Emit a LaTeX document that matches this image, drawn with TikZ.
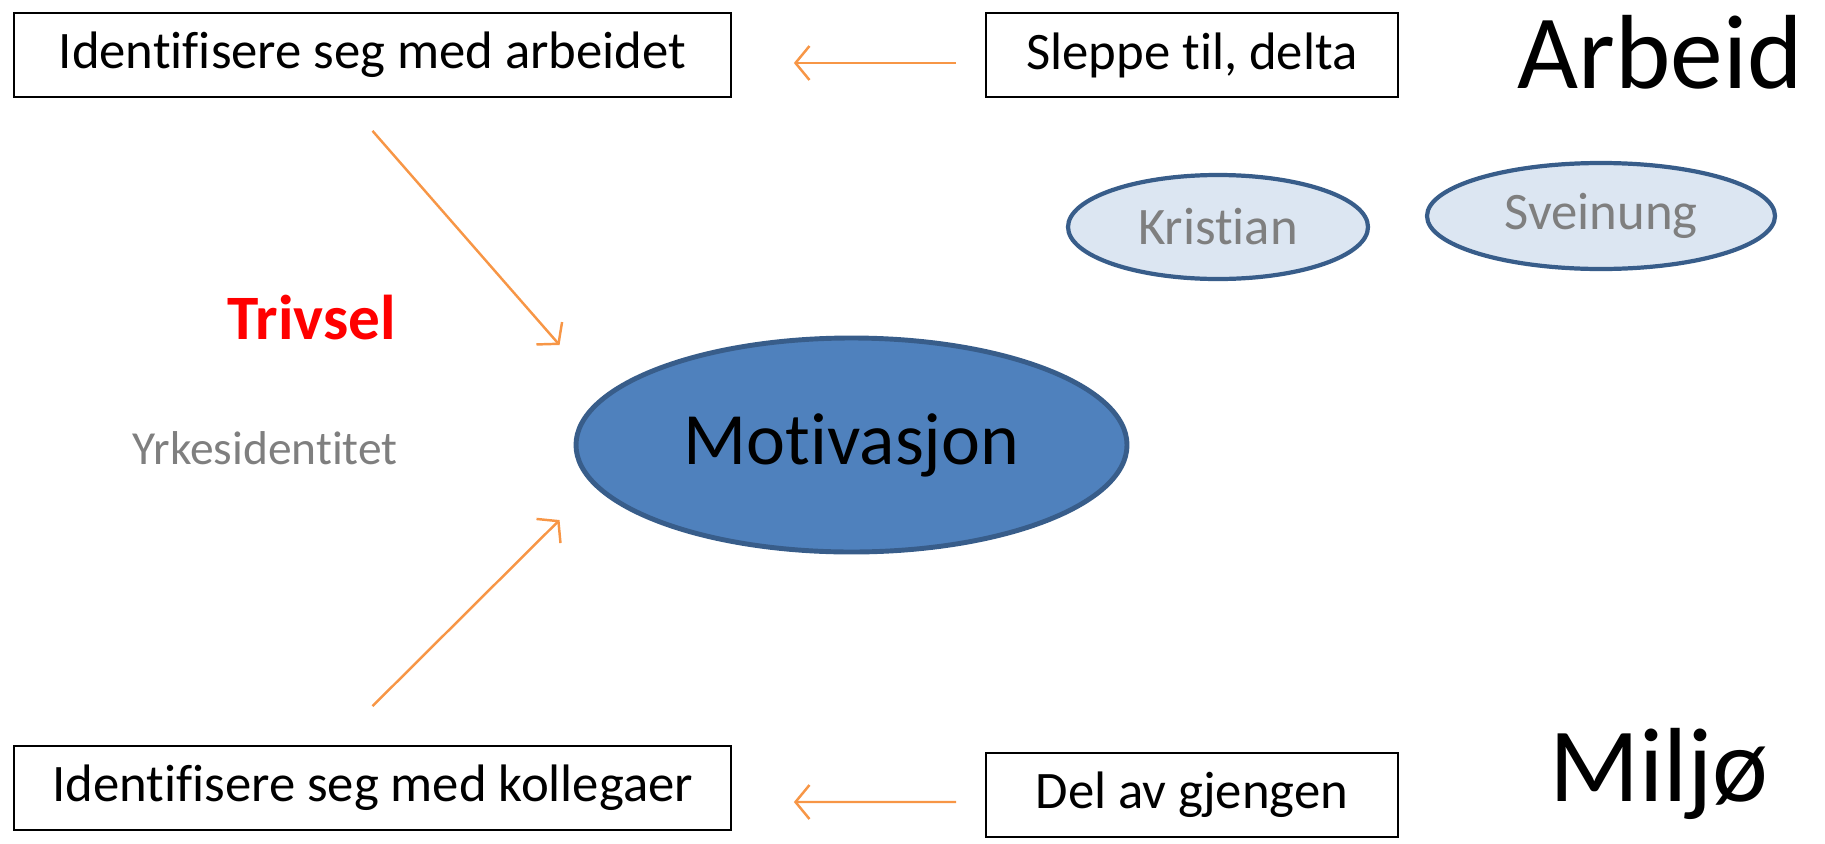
\documentclass[tikz,border=0pt]{standalone}
\usepackage{fontspec}
\setmainfont{Carlito}[RawFeature={-liga;-clig;-calt;-dlig}]
\usepackage{tikz}
\usetikzlibrary{arrows.meta, shapes.geometric, calc}

\definecolor{arrorange}{HTML}{F79646}
\definecolor{ellblue}{HTML}{4F81BD}
\definecolor{ellborder}{HTML}{385D8A}
\definecolor{ellpale}{HTML}{DCE6F2}
\definecolor{txtgray}{HTML}{7F7F7F}

\begin{document}
\begin{tikzpicture}[
        box/.style={draw=black, line width=0.5pt, minimum height=0.84cm, inner sep=0pt, font=\fontsize{15}{18}\selectfont},
        person/.style={ellipse, draw=ellborder, line width=1.2pt, fill=ellpale, inner sep=0pt, text=txtgray, font=\fontsize{15}{18}\selectfont},
        arr/.style={draw=arrorange, line width=0.7pt, -{Straight Barb[length=1.4mm,width=3.4mm]}},
        head/.style={font=\fontsize{30}{36}\selectfont}
    ]
        \useasboundingbox (0,0) rectangle (18.25,-8.43);

        \node[box, minimum width=7.17cm] (arbeidet) at (3.725,-0.55) {Identifisere seg med arbeidet};
        \node[box, minimum width=4.12cm] (sleppe) at (11.92,-0.55) {Sleppe til, delta};
        \node[head] (arbeid) at (16.6,-0.52) {Arbeid};

        \node[box, minimum width=7.17cm] (kollegaer) at (3.725,-7.88) {Identifisere seg med kollegaer};
        \node[box, minimum width=4.12cm] (gjengen) at (11.92,-7.95) {Del av gjengen};
        \node[head] (miljo) at (16.59,-7.74) {Miljø};

        \node[person, minimum width=3.0cm, minimum height=1.04cm] (kristian) at (12.18,-2.27) {Kristian};
        \node[person, minimum width=3.48cm, minimum height=1.06cm] (sveinung) at (16.01,-2.16) {Sveinung};

        \node[ellipse, draw=ellborder, line width=1.4pt, fill=ellblue, inner sep=0pt, minimum width=5.51cm, minimum height=2.14cm, font=\fontsize{21}{25}\selectfont] (motivasjon) at (8.515,-4.45) {Motivasjon};

        \node[text=red, font=\fontsize{18}{22}\selectfont\bfseries] (trivsel) at (3.12,-3.18) {Trivsel};
        \node[text=txtgray, font=\fontsize{13.5}{16}\selectfont] (yrke) at (2.65,-4.48) {Yrkesidentitet};

        \coordinate (s1) at ($(sleppe.west)+(-0.29,-0.08)$);
        \coordinate (e1) at ($(arbeidet.east)+(0.62,-0.08)$);
        \coordinate (s2) at ($(gjengen.west)+(-0.29,-0.07)$);
        \coordinate (e2) at ($(kollegaer.east)+(0.62,-0.14)$);
        \coordinate (s3) at ($(arbeidet.south)+(0,-0.33)$);
        \coordinate (e3) at ($(motivasjon.west)+(-0.14,1.0)$);
        \coordinate (s4) at ($(kollegaer.north)+(0,0.39)$);
        \coordinate (e4) at ($(motivasjon.west)+(-0.14,-0.75)$);

        \draw[arr] (s1) -- (e1);
        \draw[arr] (s2) -- (e2);
        \draw[arr] (s3) -- (e3);
        \draw[arr] (s4) -- (e4);
    \end{tikzpicture}
\end{document}
